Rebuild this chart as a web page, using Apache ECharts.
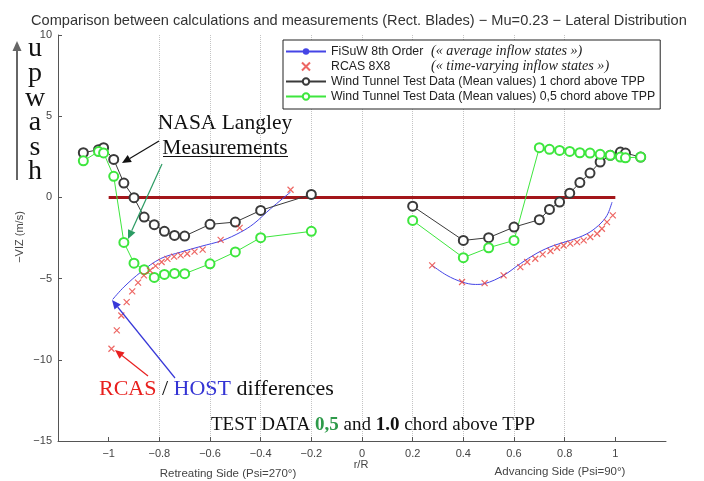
<!DOCTYPE html>
<html><head><meta charset="utf-8">
<script src="https://cdn.jsdelivr.net/npm/echarts@6/dist/echarts.min.js"></script>
<style>html,body{margin:0;padding:0;background:#fff}#c{width:704px;height:481px}</style>
</head><body><div id="c"></div>
<script>
// ---------- data ----------
const xTicks = [-1, -0.8, -0.6, -0.4, -0.2, 0, 0.2, 0.4, 0.6, 0.8, 1];
const yTicks = [-15, -10, -5, 0, 5, 10];

const zeroLine = [[-1, 0], [1, 0]];

const fisuwLeft = [[-0.984,-6.28],[-0.94,-5.52],[-0.873,-4.60],[-0.795,-3.77],[-0.716,-3.37],[-0.637,-3.02],[-0.551,-2.65],[-0.479,-2.14],[-0.427,-1.62],[-0.361,-0.70],[-0.282,0.33]];
const fisuwRight = [[0.277,-4.19],[0.335,-4.80],[0.395,-5.21],[0.448,-5.36],[0.484,-5.31],[0.559,-4.80],[0.625,-4.08],[0.691,-3.43],[0.757,-2.96],[0.822,-2.65],[0.888,-2.24],[0.934,-1.72],[0.967,-1.11],[0.987,-0.29]];

const rcas = [[-0.989,-9.32],[-0.968,-8.19],[-0.95,-7.27],[-0.929,-6.45],[-0.907,-5.79],[-0.884,-5.25],[-0.861,-4.80],[-0.837,-4.50],[-0.815,-4.22],[-0.791,-3.98],[-0.768,-3.79],[-0.742,-3.65],[-0.716,-3.57],[-0.69,-3.47],[-0.661,-3.34],[-0.629,-3.22],[-0.558,-2.62],[-0.483,-1.88],[-0.282,0.47],
  [0.277,-4.19],[0.395,-5.21],[0.484,-5.28],[0.559,-4.80],[0.625,-4.29],[0.652,-3.98],[0.684,-3.78],[0.713,-3.51],[0.744,-3.30],[0.77,-3.10],[0.796,-2.96],[0.822,-2.85],[0.849,-2.75],[0.875,-2.65],[0.901,-2.44],[0.928,-2.24],[0.947,-1.93],[0.967,-1.52],[0.99,-1.11]];

const wt1Left = [[-1.1,2.75],[-1.04,2.94],[-1.02,3.06],[-0.98,2.34],[-0.94,0.88],[-0.9,-0.02],[-0.86,-1.21],[-0.82,-1.68],[-0.78,-2.09],[-0.74,-2.34],[-0.7,-2.38],[-0.6,-1.66],[-0.5,-1.52],[-0.4,-0.80],[-0.2,0.18]];
const wt1Right = [[0.2,-0.54],[0.4,-2.65],[0.5,-2.48],[0.6,-1.83],[0.7,-1.37],[0.74,-0.74],[0.78,-0.29],[0.82,0.26],[0.86,0.91],[0.9,1.50],[0.94,2.18],[0.98,2.59],[1.02,2.79],[1.04,2.73],[1.1,2.48]];

const wt05Left = [[-1.1,2.25],[-1.04,2.82],[-1.02,2.74],[-0.98,1.30],[-0.94,-2.77],[-0.9,-4.05],[-0.86,-4.45],[-0.82,-4.93],[-0.78,-4.74],[-0.74,-4.68],[-0.7,-4.70],[-0.6,-4.09],[-0.5,-3.36],[-0.4,-2.48],[-0.2,-2.09]];
const wt05Right = [[0.2,-1.42],[0.4,-3.71],[0.5,-3.10],[0.6,-2.65],[0.7,3.06],[0.74,2.96],[0.78,2.89],[0.82,2.83],[0.86,2.75],[0.9,2.73],[0.94,2.65],[0.98,2.59],[1.02,2.48],[1.04,2.44],[1.1,2.48]];

const names = ['FiSuW 8th Order', 'RCAS 8X8',
  'Wind Tunnel Test Data (Mean values) 1 chord above TPP',
  'Wind Tunnel Test Data (Mean values) 0,5 chord above TPP'];
const notes = { 'FiSuW 8th Order': '(« average inflow states »)', 'RCAS 8X8': '(« time-varying inflow states »)' };

// ---------- styles ----------
const BLUE = '#4545e6', RED = '#e8403c', BLACK = '#3a3a3a', GREEN = '#3ee63e';
const SANS = '"Liberation Sans", Arial, sans-serif';
const SERIF = '"Liberation Serif", "Times New Roman", serif';
const fmt = v => {
  const r = Math.round(v * 10) / 10;
  return String(r).replace('-', '\u2212');
};

function arrow(x1, y1, x2, y2, color, w, head) {
  const dx = x2 - x1, dy = y2 - y1, L = Math.hypot(dx, dy);
  const ux = dx / L, uy = dy / L, hl = head || 9, hw = (head || 9) * 0.45;
  const bx = x2 - ux * hl, by = y2 - uy * hl;
  return [
    { type: 'line', shape: { x1, y1, x2: bx, y2: by }, style: { stroke: color, lineWidth: w }, z: 100 },
    { type: 'polygon', shape: { points: [[x2, y2], [bx - uy * hw, by + ux * hw], [bx + uy * hw, by - ux * hw]] }, style: { fill: color }, z: 100 }
  ];
}

const circleLine = (name, data, color) => ({
  name, type: 'line', data, symbol: 'emptyCircle', symbolSize: 9,
  lineStyle: { color, width: 1 }, itemStyle: { color, borderColor: color, borderWidth: 1 },
  z: 4
});

const chart = echarts.init(document.getElementById('c'), null, { renderer: 'canvas' });
const upwash = ['u', 'p', 'w', 'a', 's', 'h'];

chart.setOption({
  animation: false,
  backgroundColor: '#fff',
  title: {
    text: 'Comparison between calculations and measurements (Rect. Blades) \u2212 Mu=0.23 \u2212 Lateral Distribution',
    left: 26, top: 8,
    textStyle: { fontFamily: SANS, fontSize: 14.6, fontWeight: 'normal', color: '#333' }
  },
  grid: { left: 58, right: 38, top: 35, bottom: 40, containLabel: false },
  xAxis: {
    type: 'value', min: -1.2, max: 1.2, interval: 0.2,
    axisLine: { onZero: false, lineStyle: { color: '#555', width: 1 } },
    axisTick: { inside: true, length: 4, lineStyle: { color: '#555' }, customValues: xTicks },
    axisLabel: { customValues: xTicks, formatter: fmt, color: '#444', fontFamily: SANS, fontSize: 11, margin: 7 },
    splitLine: { show: true, showMinLine: false, showMaxLine: false, lineStyle: { color: '#c4c4c4', type: 'dotted', width: 1 } }
  },
  yAxis: {
    type: 'value', min: -15, max: 10, interval: 5,
    axisLine: { show: true, onZero: false, lineStyle: { color: '#555', width: 1 } },
    axisTick: { show: true, inside: true, length: 4, lineStyle: { color: '#555' }, customValues: yTicks },
    axisLabel: { customValues: yTicks, formatter: fmt, color: '#444', fontFamily: SANS, fontSize: 11, margin: 6 },
    splitLine: { show: false }
  },
  legend: {
    data: names, orient: 'vertical', left: 283, top: 40,
    padding: [4, 5, 5, 2], itemGap: 0, itemWidth: 40, itemHeight: 8,
    borderColor: '#222', borderWidth: 1, backgroundColor: '#fff',
    selectedMode: false,
    textStyle: {
      fontFamily: SANS, fontSize: 12.3, color: '#222', lineHeight: 15,
      rich: {
        n: { fontFamily: SANS, fontSize: 12.3, color: '#222', width: 100, lineHeight: 15 },
        s: { fontFamily: SERIF, fontSize: 14.2, fontStyle: 'italic', color: '#222', lineHeight: 15 }
      }
    },
    formatter: n => notes[n] ? '{n|' + n + '}{s|' + notes[n] + '}' : n
  },
  series: [
    { name: 'zero', type: 'line', data: zeroLine, symbol: 'none', lineStyle: { color: '#a3161a', width: 3 }, z: 1, silent: true },
    { name: names[0], type: 'line', data: fisuwLeft, smooth: 0.35, symbol: 'none', lineStyle: { color: BLUE, width: 1 }, itemStyle: { color: BLUE }, z: 3 },
    { name: names[0], type: 'line', data: fisuwRight, smooth: 0.35, symbol: 'none', lineStyle: { color: BLUE, width: 1 }, itemStyle: { color: BLUE }, z: 3 },
    { name: names[1], type: 'scatter', data: rcas, symbol: 'path://M0,0L10,10M10,0L0,10', symbolSize: 6,
      itemStyle: { color: 'rgba(0,0,0,0)', borderColor: RED, borderWidth: 1.2 }, z: 5 },
    circleLine(names[2], wt1Left, BLACK),
    circleLine(names[2], wt1Right, BLACK),
    circleLine(names[3], wt05Left, GREEN),
    circleLine(names[3], wt05Right, GREEN)
  ],
  graphic: [
    // axis titles
    { type: 'text', x: 20, y: 237, rotation: Math.PI / 2, style: { text: '\u2212VIZ (m/s)', font: '11px ' + SANS, fill: '#444', align: 'center', verticalAlign: 'middle' } },
    { type: 'text', x: 361, y: 465, style: { text: 'r/R', font: '11px ' + SANS, fill: '#444', align: 'center', verticalAlign: 'middle' } },
    { type: 'text', x: 228, y: 474, style: { text: 'Retreating Side (Psi=270\u00b0)', font: '11.5px ' + SANS, fill: '#444', align: 'center', verticalAlign: 'middle' } },
    { type: 'text', x: 560, y: 472, style: { text: 'Advancing Side (Psi=90\u00b0)', font: '11.5px ' + SANS, fill: '#444', align: 'center', verticalAlign: 'middle' } },
    // upwash
    ...upwash.map((ch, i) => ({ type: 'text', x: 35, y: 35 + i * 24.6, style: { text: ch, font: '28px ' + SERIF, fill: '#111', align: 'center' } })),
    ...arrow(17, 180, 17, 41, '#666', 2, 10),
    // NASA Langley annotation
    { type: 'text', x: 225, y: 112, style: { text: 'NASA Langley', font: '21.5px ' + SERIF, fill: '#111', align: 'center' } },
    { type: 'text', x: 225, y: 137, style: { text: 'Measurements', font: '21.5px ' + SERIF, fill: '#111', align: 'center' } },
    { type: 'line', shape: { x1: 163, y1: 156.5, x2: 288, y2: 156.5 }, style: { stroke: '#111', lineWidth: 1 } },
    ...arrow(159, 141, 122, 163, '#111', 1.2, 9),
    ...arrow(162, 164, 128, 239, '#2b9b63', 1.2, 9),
    // RCAS / HOST differences
    { type: 'text', x: 99, y: 378, style: {
        text: '{r|RCAS} {k|/} {b|HOST} {k|differences}',
        rich: {
          r: { font: '22px ' + SERIF, fill: '#e8201e' },
          b: { font: '22px ' + SERIF, fill: '#3434d4' },
          k: { font: '22px ' + SERIF, fill: '#111' }
        }, font: '22px ' + SERIF } },
    ...arrow(175, 378, 112, 300, '#3838d8', 1.2, 9),
    ...arrow(148, 376, 115, 350, '#e82020', 1.2, 9),
    // TEST DATA
    { type: 'text', x: 211, y: 416, style: {
        text: '{k|TEST DATA }{g|0,5}{k| and }{bk|1.0}{k| chord above TPP}',
        rich: {
          k: { font: '19px ' + SERIF, fill: '#111' },
          g: { font: 'bold 19px ' + SERIF, fill: '#2e9a4a' },
          bk: { font: 'bold 19px ' + SERIF, fill: '#111' }
        }, font: '19px ' + SERIF } }
  ]
});
</script></body></html>
